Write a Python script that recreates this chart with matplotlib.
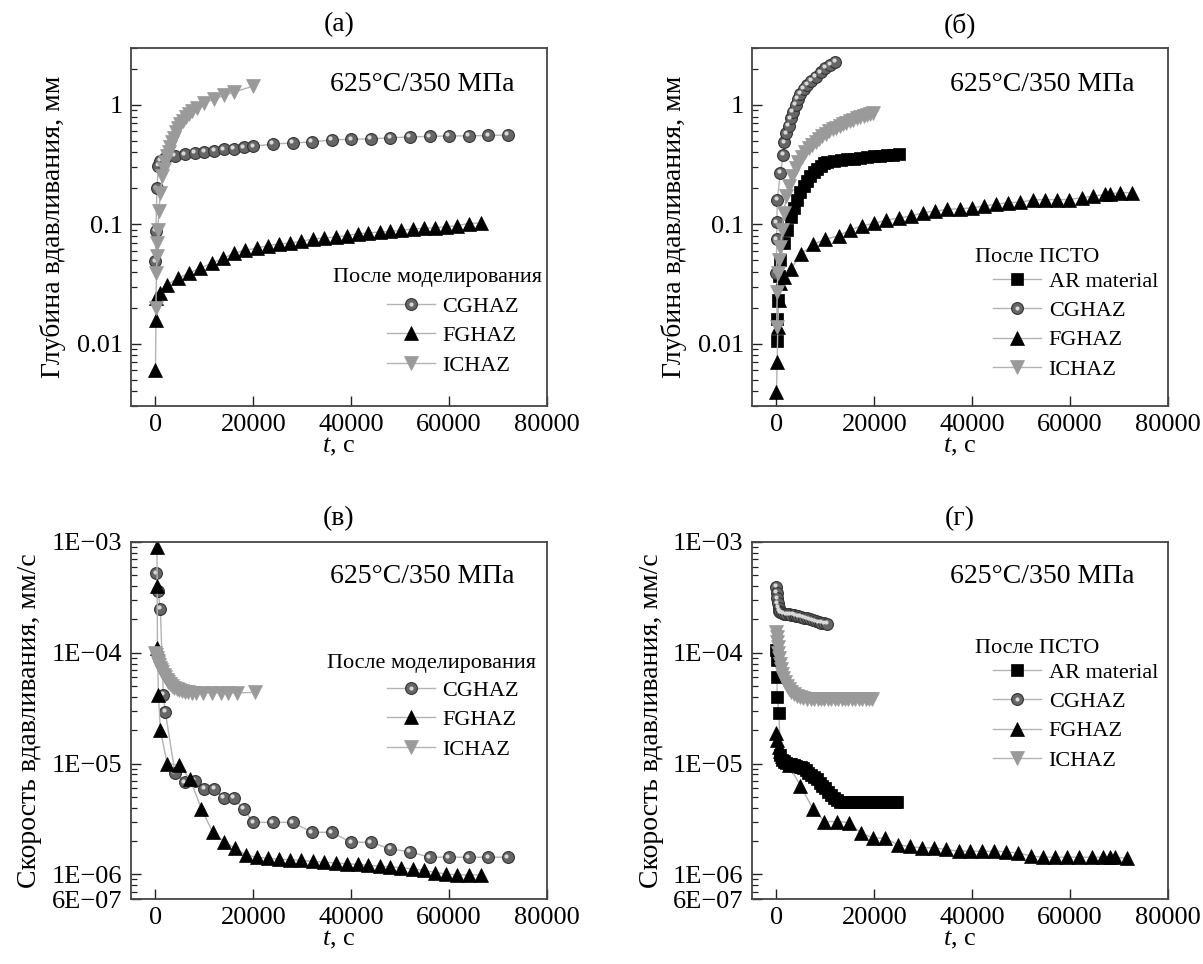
import matplotlib
matplotlib.use("Agg")
import matplotlib.pyplot as plt
from matplotlib.ticker import FixedLocator, FixedFormatter, LogLocator, NullFormatter
from matplotlib.transforms import offset_copy

plt.rcParams['font.family'] = ['Liberation Serif', 'DejaVu Serif']
plt.rcParams['mathtext.fontset'] = 'custom'
plt.rcParams['mathtext.rm'] = 'Liberation Serif'
plt.rcParams['mathtext.it'] = 'Liberation Serif:italic'

# ---------------- data ----------------
# (а) depth after simulation
a_cg_t = [0, 100, 300, 600, 1000, 2000, 4000, 6000, 8000, 10000, 12000, 14000, 16000, 18000, 20000,
          24000, 28000, 32000, 36000, 40000, 44000, 48000, 52000, 56000, 60000, 64000, 68000, 72000]
a_cg_v = [0.049, 0.088, 0.20, 0.31, 0.34, 0.36, 0.375, 0.385, 0.395, 0.405, 0.415, 0.425, 0.43, 0.44, 0.45,
          0.47, 0.48, 0.49, 0.51, 0.515, 0.52, 0.53, 0.54, 0.545, 0.55, 0.55, 0.555, 0.56]
a_fg_t = [0, 100, 200, 1000, 2300, 4600, 6800, 9100, 11500, 13900, 16100, 18200, 20700, 22900, 25300, 27500,
          29700, 32100, 34500, 36800, 39100, 41300, 43500, 45800, 48000, 50200, 52600, 54800, 57200, 59400,
          61700, 64000, 66500]
a_fg_v = [0.006, 0.0157, 0.0239, 0.0264, 0.031, 0.0353, 0.0389, 0.0429, 0.0472, 0.052, 0.0573, 0.0604, 0.0632,
          0.0661, 0.0683, 0.0697, 0.0719, 0.0752, 0.0767, 0.0782, 0.0802, 0.0834, 0.0845, 0.0861, 0.0873, 0.0889,
          0.0913, 0.0925, 0.0937, 0.095, 0.0975, 0.1014, 0.1026]
a_ic_t = [100, 200, 300, 400, 500, 700, 1000, 1400, 1700, 2000, 2400, 2700, 3000, 3400, 3800, 4100, 4600, 5100,
          5600, 6200, 6800, 7500, 8400, 10000, 12000, 14000, 16000, 20000]
a_ic_v = [0.020, 0.039, 0.054, 0.07, 0.09, 0.129, 0.184, 0.254, 0.29, 0.33, 0.37, 0.40, 0.44, 0.485, 0.53, 0.588,
          0.64, 0.69, 0.74, 0.787, 0.84, 0.896, 0.95, 1.04, 1.12, 1.2, 1.28, 1.44]

# (б) depth after PWHT
b_ar_t = [100, 150, 270, 480, 820, 1500, 2200, 2900, 3500, 4200, 4900, 5600, 6300, 6900, 7600, 8300, 9000, 9700,
          10300, 11700, 13100, 14400, 15800, 17100, 18500, 19900, 21200, 22600, 23900, 25000]
b_ar_v = [0.0105, 0.016, 0.023, 0.037, 0.05, 0.07, 0.09, 0.114, 0.137, 0.16, 0.185, 0.209, 0.23, 0.254, 0.274,
          0.293, 0.309, 0.325, 0.333, 0.34, 0.347, 0.351, 0.355, 0.36, 0.365, 0.37, 0.374, 0.379, 0.384, 0.387]
b_cg_t = [0, 50, 100, 150, 800, 1400, 1600, 2000, 2500, 2900, 3400, 3900, 4400, 4900, 5600, 6300, 7100, 8000,
          9000, 10000, 11000, 12000]
b_cg_v = [0.039, 0.075, 0.104, 0.16, 0.27, 0.38, 0.485, 0.58, 0.67, 0.77, 0.88, 1.0, 1.12, 1.24, 1.36, 1.47, 1.6,
          1.73, 1.88, 2.04, 2.17, 2.29]
b_fg_t = [0, 140, 270, 480, 820, 1600, 2900, 5000, 7500, 10000, 12700, 15100, 17500, 20000, 22400, 25000, 27500,
          29900, 32400, 34800, 37400, 39900, 42400, 44900, 47400, 49800, 52400, 54900, 57400, 59800, 62400, 64700,
          67100, 68100, 70200, 72600]
b_fg_v = [0.0039, 0.007, 0.0138, 0.023, 0.032, 0.036, 0.042, 0.056, 0.068, 0.075, 0.08, 0.09, 0.097, 0.102, 0.108,
          0.113, 0.117, 0.125, 0.129, 0.133, 0.135, 0.137, 0.142, 0.147, 0.152, 0.153, 0.16, 0.161, 0.161, 0.161,
          0.167, 0.172, 0.178, 0.18, 0.184, 0.184]
b_ic_t = [50, 140, 270, 480, 820, 1160, 1500, 2000, 2500, 3200, 3900, 4500, 5200, 5900, 6600, 7300, 8000, 8700,
          9400, 10100, 10800, 11500, 12200, 12900, 13600, 14300, 15000, 15700, 16400, 17100, 17800, 18500, 19200,
          19700]
b_ic_v = [0.0138, 0.0273, 0.039, 0.05, 0.065, 0.09, 0.125, 0.172, 0.209, 0.254, 0.299, 0.33, 0.365, 0.40, 0.435,
          0.46, 0.485, 0.52, 0.55, 0.57, 0.60, 0.625, 0.645, 0.67, 0.69, 0.71, 0.735, 0.755, 0.77, 0.79, 0.81,
          0.83, 0.845, 0.86]

# (в) rate after simulation
c_cg_t = [200, 500, 1000, 1600, 2000, 4000, 6000, 8000, 10000, 12000, 14000, 16000, 18000, 20000, 24000, 28000,
          32000, 36000, 40000, 44000, 48000, 52000, 56000, 60000, 64000, 68000, 72000]
c_cg_v = [5.2e-4, 3.6e-4, 2.48e-4, 4.2e-5, 2.95e-5, 8.2e-6, 6.8e-6, 7.0e-6, 5.9e-6, 5.9e-6, 4.9e-6, 4.9e-6, 3.9e-6,
          2.95e-6, 2.95e-6, 2.95e-6, 2.4e-6, 2.4e-6, 1.95e-6, 1.95e-6, 1.7e-6, 1.6e-6, 1.43e-6, 1.43e-6, 1.43e-6,
          1.43e-6, 1.43e-6]
c_fg_t = [300, 350, 400, 600, 1000, 2400, 4800, 7100, 9400, 11700, 14000, 16200, 18400, 20700, 22900, 25300, 27500,
          29700, 32100, 34500, 36800, 39100, 41300, 43500, 45800, 48000, 50200, 52600, 54800, 57200, 59400, 61700,
          64000, 66500]
c_fg_v = [9.1e-4, 4.0e-4, 1.1e-4, 4.2e-5, 2.0e-5, 1.0e-5, 9.7e-6, 7.2e-6, 3.9e-6, 2.4e-6, 1.98e-6, 1.72e-6, 1.5e-6,
          1.43e-6, 1.4e-6, 1.37e-6, 1.36e-6, 1.34e-6, 1.31e-6, 1.29e-6, 1.27e-6, 1.25e-6, 1.23e-6, 1.21e-6, 1.19e-6,
          1.17e-6, 1.15e-6, 1.12e-6, 1.09e-6, 1.04e-6, 1.01e-6, 0.99e-6, 0.99e-6, 0.99e-6]
c_ic_t = [0, 150, 300, 450, 600, 800, 1000, 1200, 1400, 1700, 2000, 2300, 2600, 3000, 3400, 3800, 4300, 4800, 5400,
          6000, 6700, 7400, 8200, 9800, 11600, 13300, 14900, 16700, 20400]
c_ic_v = [1.0e-4, 9.5e-5, 9.0e-5, 8.5e-5, 8.1e-5, 7.7e-5, 7.3e-5, 7.0e-5, 6.7e-5, 6.3e-5, 6.0e-5, 5.7e-5, 5.45e-5,
          5.2e-5, 5.0e-5, 4.85e-5, 4.7e-5, 4.6e-5, 4.5e-5, 4.45e-5, 4.4e-5, 4.35e-5, 4.35e-5, 4.35e-5, 4.35e-5,
          4.35e-5, 4.35e-5, 4.35e-5, 4.4e-5]

# (г) rate after PWHT
d_ar_t = [0, 50, 100, 150, 500, 800, 1100, 1500, 2000, 2500, 3000, 3500, 4000, 4500, 5000, 5500, 6000, 6500, 7000,
          7600, 8200, 8800, 9400, 10000, 10600, 11200, 11800, 12400, 13000, 13800, 14600, 15400, 16200, 17000,
          17800, 18600, 19400, 20200, 21000, 21800, 22600, 23400, 24200, 24700]
d_ar_v = [1.06e-4, 8.7e-5, 6.1e-5, 4.0e-5, 2.86e-5, 1.2e-5, 1.08e-5, 1.05e-5, 1.02e-5, 1.0e-5, 9.9e-6, 9.8e-6,
          9.6e-6, 9.4e-6, 9.3e-6, 9.2e-6, 8.8e-6, 8.3e-6, 7.9e-6, 7.6e-6, 7.2e-6, 6.7e-6, 6.3e-6, 6.0e-6, 5.6e-6,
          5.2e-6, 4.9e-6, 4.7e-6, 4.5e-6, 4.48e-6, 4.48e-6, 4.48e-6, 4.48e-6, 4.48e-6, 4.48e-6, 4.48e-6, 4.48e-6,
          4.48e-6, 4.48e-6, 4.48e-6, 4.48e-6, 4.48e-6, 4.48e-6, 4.48e-6]
d_cg_t = [0, 100, 200, 300, 450, 600, 800, 1100, 1500, 2000, 2500, 3000, 3500, 4000, 4500, 5000, 5600, 6200, 6800,
          7400, 8000, 8600, 9200, 9800, 10400]
d_cg_v = [3.95e-4, 3.5e-4, 3.1e-4, 2.8e-4, 2.55e-4, 2.4e-4, 2.32e-4, 2.28e-4, 2.25e-4, 2.23e-4, 2.22e-4, 2.21e-4,
          2.2e-4, 2.17e-4, 2.14e-4, 2.11e-4, 2.07e-4, 2.04e-4, 2.0e-4, 1.96e-4, 1.92e-4, 1.89e-4, 1.86e-4, 1.84e-4,
          1.83e-4]
d_fg_t = [0, 140, 480, 820, 1160, 1840, 2500, 4900, 7500, 9800, 12400, 14800, 17300, 19700, 22200, 24800, 27200,
          29700, 32100, 34700, 37200, 39600, 42000, 44500, 46900, 49400, 52000, 54400, 56900, 59300, 61900, 64400,
          66800, 68100, 69200, 71700]
d_fg_v = [1.87e-5, 1.63e-5, 1.42e-5, 1.3e-5, 1.16e-5, 1.05e-5, 9.7e-6, 6.3e-6, 3.88e-6, 3.0e-6, 3.0e-6, 2.94e-6,
          2.36e-6, 2.13e-6, 2.13e-6, 1.85e-6, 1.79e-6, 1.74e-6, 1.74e-6, 1.68e-6, 1.62e-6, 1.62e-6, 1.62e-6, 1.62e-6,
          1.6e-6, 1.56e-6, 1.47e-6, 1.43e-6, 1.43e-6, 1.43e-6, 1.43e-6, 1.43e-6, 1.43e-6, 1.43e-6, 1.43e-6, 1.4e-6]
d_ic_t = [0, 100, 200, 300, 400, 550, 700, 900, 1100, 1400, 1700, 2100, 2500, 3000, 3500, 4100, 4800, 5500, 6300,
          7000, 7700, 8400, 9100, 9800, 10500, 11200, 11900, 12600, 13300, 14000, 14700, 15400, 16100, 16800,
          17500, 18200, 18900, 19600]
d_ic_v = [1.55e-4, 1.4e-4, 1.25e-4, 1.12e-4, 1.0e-4, 9.0e-5, 8.0e-5, 7.2e-5, 6.5e-5, 5.9e-5, 5.4e-5, 5.0e-5, 4.7e-5,
          4.45e-5, 4.25e-5, 4.1e-5, 4.0e-5, 3.9e-5, 3.85e-5, 3.85e-5, 3.85e-5, 3.85e-5, 3.85e-5, 3.85e-5, 3.85e-5,
          3.85e-5, 3.85e-5, 3.85e-5, 3.85e-5, 3.85e-5, 3.85e-5, 3.85e-5, 3.85e-5, 3.85e-5, 3.85e-5, 3.85e-5,
          3.85e-5, 3.85e-5]

x_ticks = [0, 20000, 40000, 60000, 80000]
depth_ticks = [0.01, 0.1, 1]
depth_labels = ['0.01', '0.1', '1']
rate_ticks = [6e-7, 1e-6, 1e-5, 1e-4, 1e-3]
rate_labels = ['6E\u221207', '1E\u221206', '1E\u221205', '1E\u221204', '1E\u221203']
cond_text = '625°C/350 МПа'
title_sim = 'После моделирования'
title_pwht = 'После ПСТО'
name = {'ar': 'AR material', 'cg': 'CGHAZ', 'fg': 'FGHAZ', 'ic': 'ICHAZ'}

# ---------------- figure ----------------
W, H = 1203, 964
fig = plt.figure(figsize=(W / 100, H / 100), dpi=100)


def add_axes(l, r, t, b):
    return fig.add_axes([l / W, 1 - b / H, (r - l) / W, (b - t) / H])


ax_a = add_axes(131, 547, 48, 406)
ax_b = add_axes(752, 1168, 48, 406)
ax_c = add_axes(131, 547, 542, 899)
ax_d = add_axes(752, 1168, 542, 899)

LINE_C = '#b3b3b3'
STY = {
    'cg': dict(marker='o', ms=8.5, mfc='#666666', mec='#333333', mew=0.8),
    'fg': dict(marker='^', ms=10, mfc='black', mec='black', mew=0.5),
    'ic': dict(marker='v', ms=10, mfc='#9a9a9a', mec='#9a9a9a', mew=0.5),
    'ar': dict(marker='s', ms=8, mfc='black', mec='black', mew=0.5),
}


def series(ax, t, v, kind):
    ln, = ax.plot(t, v, color=LINE_C, lw=1.0, **STY[kind])
    if kind == 'cg':
        tr = offset_copy(ax.transData, fig=fig, x=-1.2, y=1.2, units='points')
        hl, = ax.plot(t, v, ls='none', marker='o', ms=3.0, mfc='#d8d8d8', mec='none', transform=tr)
        return (ln, hl)
    return ln


def style(ax, ylim, ticks, labels, ylabel, label_x):
    ax.set_xlim(-5000, 80000)
    ax.set_yscale('log')
    ax.set_ylim(*ylim)
    ax.xaxis.set_major_locator(FixedLocator(x_ticks))
    ax.xaxis.set_major_formatter(FixedFormatter([str(x) for x in x_ticks]))
    ax.yaxis.set_major_locator(FixedLocator(ticks))
    ax.yaxis.set_major_formatter(FixedFormatter(labels))
    ax.yaxis.set_minor_locator(LogLocator(base=10, subs=(2, 3, 4, 5, 6, 7, 8, 9), numticks=20))
    ax.yaxis.set_minor_formatter(NullFormatter())
    ax.tick_params(which='both', direction='in', top=False, right=False, colors='#222222',
                   labelcolor='black', labelsize=19)
    ax.tick_params(which='major', length=7, width=1.0)
    ax.tick_params(which='minor', length=4.3, width=0.9)
    ax.tick_params(axis='y', pad=6)
    ax.tick_params(axis='x', pad=6)
    for s in ax.spines.values():
        s.set_linewidth(1.3)
        s.set_color('#444444')
    ax.set_xlabel('$t$, с', fontsize=19, labelpad=0)
    ax.set_ylabel(ylabel, fontsize=20, va='center')
    ax.yaxis.set_label_coords(label_x / 416, 0.5)


def legend(ax, handles, labels, x, y):
    ax.legend(handles, labels, loc='upper left', bbox_to_anchor=(x, y), frameon=False, fontsize=16,
              handlelength=2.15, handletextpad=0.36, labelspacing=0.4, borderpad=0, borderaxespad=0)


depth_lim = (0.003, 3.0)
rate_lim = (6e-7, 1e-3)

# (а)
h = [series(ax_a, a_cg_t, a_cg_v, 'cg'), series(ax_a, a_fg_t, a_fg_v, 'fg'), series(ax_a, a_ic_t, a_ic_v, 'ic')]
style(ax_a, depth_lim, depth_ticks, depth_labels, 'Глубина вдавливания, мм', -78)
legend(ax_a, h, [name['cg'], name['fg'], name['ic']], 0.615, 0.307)
ax_a.text(0.486, 0.358, title_sim, transform=ax_a.transAxes, fontsize=16, ha='left', va='center')
ax_a.text(0.478, 0.897, cond_text, transform=ax_a.transAxes, fontsize=20, ha='left', va='center')

# (б)
h = [series(ax_b, b_ar_t, b_ar_v, 'ar'), series(ax_b, b_cg_t, b_cg_v, 'cg'),
     series(ax_b, b_fg_t, b_fg_v, 'fg'), series(ax_b, b_ic_t, b_ic_v, 'ic')]
style(ax_b, depth_lim, depth_ticks, depth_labels, 'Глубина вдавливания, мм', -78)
legend(ax_b, h, [name['ar'], name['cg'], name['fg'], name['ic']], 0.579, 0.377)
ax_b.text(0.536, 0.416, title_pwht, transform=ax_b.transAxes, fontsize=16, ha='left', va='center')
ax_b.text(0.476, 0.897, cond_text, transform=ax_b.transAxes, fontsize=20, ha='left', va='center')

# (в)
h = [series(ax_c, c_cg_t, c_cg_v, 'cg'), series(ax_c, c_fg_t, c_fg_v, 'fg'), series(ax_c, c_ic_t, c_ic_v, 'ic')]
style(ax_c, rate_lim, rate_ticks, rate_labels, 'Скорость вдавливания, мм/с', -101)
legend(ax_c, h, [name['cg'], name['fg'], name['ic']], 0.615, 0.613)
ax_c.text(0.471, 0.661, title_sim, transform=ax_c.transAxes, fontsize=16, ha='left', va='center')
ax_c.text(0.478, 0.902, cond_text, transform=ax_c.transAxes, fontsize=20, ha='left', va='center')

# (г)
h = [series(ax_d, d_ar_t, d_ar_v, 'ar'), series(ax_d, d_cg_t, d_cg_v, 'cg'),
     series(ax_d, d_fg_t, d_fg_v, 'fg'), series(ax_d, d_ic_t, d_ic_v, 'ic')]
style(ax_d, rate_lim, rate_ticks, rate_labels, 'Скорость вдавливания, мм/с', -101)
legend(ax_d, h, [name['ar'], name['cg'], name['fg'], name['ic']], 0.579, 0.664)
ax_d.text(0.536, 0.703, title_pwht, transform=ax_d.transAxes, fontsize=16, ha='left', va='center')
ax_d.text(0.476, 0.902, cond_text, transform=ax_d.transAxes, fontsize=20, ha='left', va='center')

# panel letters
for ax, lab in [(ax_a, '(а)'), (ax_b, '(б)'), (ax_c, '(в)'), (ax_d, '(г)')]:
    ax.text(0.5, 1 + 23 / 358, lab, transform=ax.transAxes, fontsize=20, ha='center', va='center')

fig.savefig('out.png', dpi=100)
